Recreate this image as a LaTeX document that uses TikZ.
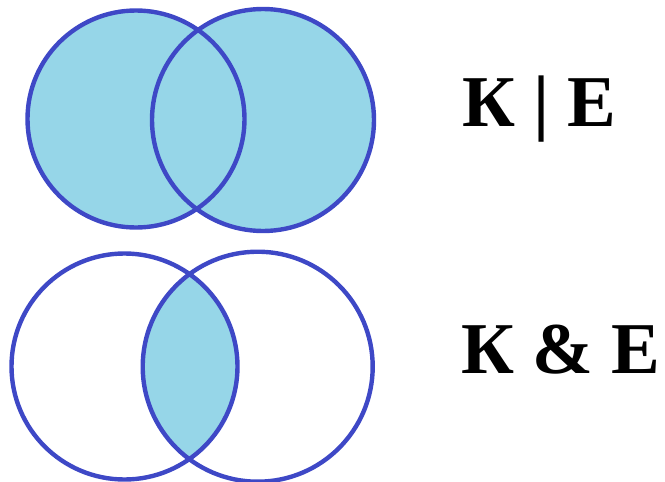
\documentclass[tikz,border=0pt]{standalone}
\usepackage{fontspec}
\setmainfont{Liberation Serif}[BoldFont={Liberation Serif Bold}]
\usepackage{xcolor}
\definecolor{vennline}{RGB}{62,72,198}
\definecolor{vennfill}{RGB}{150,214,232}
\begin{document}
\begin{tikzpicture}[x=1pt,y=-1pt,
  ring/.style={draw=vennline,line width=4.4pt},
  lab/.style={anchor=base west,inner sep=0pt,font=\fontsize{73}{88}\selectfont\bfseries}]
\useasboundingbox (0,0) rectangle (665,482);
% union
\coordinate (ka) at (136,119);
\coordinate (ea) at (263,120);
\fill[vennfill] (ka) circle (108.5) (ea) circle (111);
\draw[ring] (ka) circle (108.5);
\draw[ring] (ea) circle (111);
\node[lab] (ora) at (462,126) {К | Е};
% intersection
\coordinate (kb) at (124.5,366.5);
\coordinate (eb) at (257.7,366.7);
\begin{scope}
 \clip (kb) circle (113);
 \fill[vennfill] (eb) circle (115);
\end{scope}
\draw[ring] (kb) circle (113);
\draw[ring] (eb) circle (115);
\node[lab] (andb) at (461,373) {К \& Е};
\end{tikzpicture}
\end{document}
